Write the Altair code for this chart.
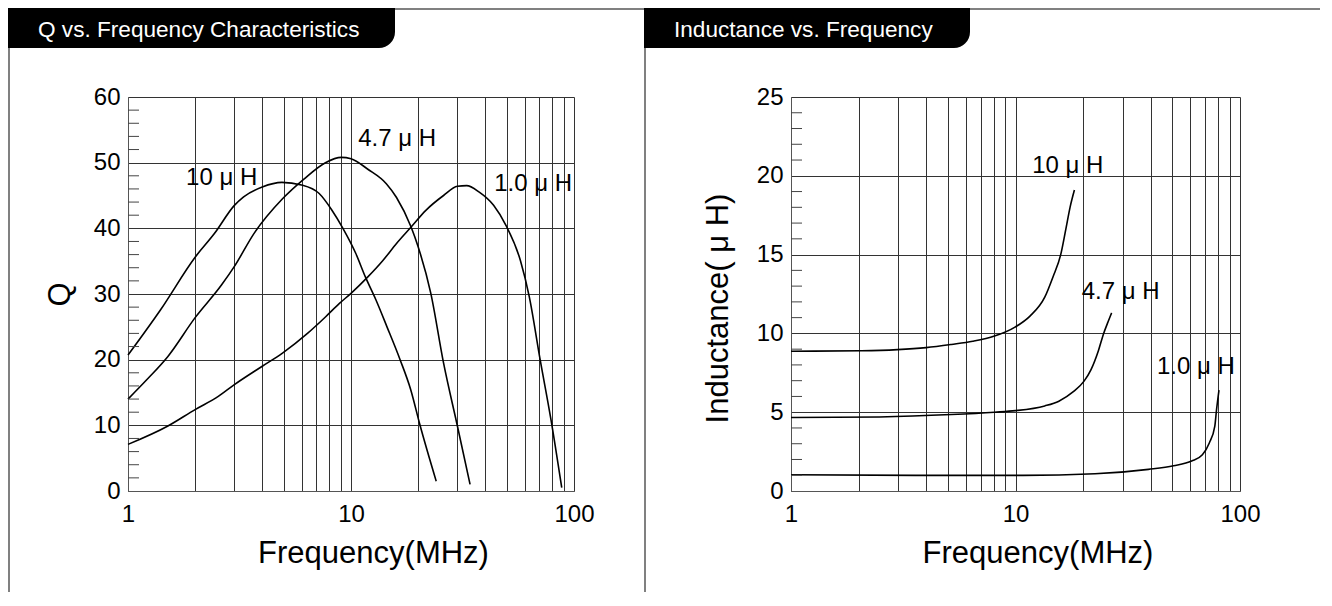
import altair as alt
import pandas as pd

FONT = "Liberation Sans"

# ---------------- Q vs. Frequency data ----------------
q10_f = [1, 1.4, 2, 2.44, 3, 3.3, 4, 4.9, 6.0, 7.2, 8.2, 9.2, 10.5, 11.6, 12.9, 14.5, 16.6, 18.5, 20.4, 24.1]
q10_q = [20.7, 27.6, 35.6, 39.2, 43.5, 44.8, 46.3, 47.0, 46.6, 45.3, 42.8, 40.0, 36.2, 32.6, 29.2, 25.0, 20.0, 15.5, 10.0, 1.5]

q47_f = [1, 1.21, 1.51, 2, 2.63, 3, 3.67, 4.93, 6.15, 7.68, 9.05, 10, 11.9, 14.4, 16.0, 18.6, 20, 22.8, 26.0, 30, 34.2]
q47_q = [14.0, 16.9, 20.5, 26.4, 31.4, 34.2, 39.2, 44.5, 47.5, 50.0, 50.8, 50.6, 49.0, 46.8, 44.7, 40.2, 37.2, 30.1, 19.5, 9.9, 1.0]

q1_f = [1, 1.51, 2, 2.54, 3, 4, 4.93, 6.38, 7.68, 8.9, 10, 11.9, 13.9, 16.0, 18.6, 21.6, 26.0, 30, 33.0, 37.6, 43.6, 49.6, 57.5, 63.0, 70.5, 78.8, 88.1]
q1_q = [7.1, 9.9, 12.4, 14.4, 16.2, 19.0, 21.0, 24.0, 26.5, 28.6, 30.1, 32.6, 35.1, 37.7, 40.2, 42.7, 45.0, 46.4, 46.5, 45.5, 43.5, 40.4, 35.1, 29.6, 20.0, 10.9, 0.5]

q_label_text = ["10 \u03bc H", "4.7 \u03bc H", "1.0 \u03bc H"]
q_label_f = [2.63, 16.1, 65.6]
q_label_q = [47.7, 53.6, 46.7]

# ---------------- Inductance vs. Frequency data ----------------
l10_f = [1, 2.06, 2.98, 4.0, 5.18, 6.45, 8.06, 9.95, 11.6, 13.5, 14.7, 15.9, 16.8, 17.5, 18.3]
l10_l = [8.87, 8.9, 8.97, 9.1, 9.3, 9.5, 9.83, 10.4, 11.1, 12.3, 13.6, 15.0, 16.7, 18.0, 19.1]

l47_f = [1, 2.48, 5.18, 8.06, 10.0, 13.5, 15.6, 18.1, 20.2, 21.7, 23.4, 24.7, 25.7, 26.8]
l47_l = [4.66, 4.7, 4.85, 5.0, 5.1, 5.4, 5.7, 6.3, 6.97, 7.7, 8.9, 10.0, 10.65, 11.3]

l1_f = [1, 3.58, 10.8, 22.6, 39.1, 50.6, 60.9, 68.0, 73.0, 77.2, 78.6, 80.6]
l1_l = [1.03, 0.99, 0.99, 1.09, 1.37, 1.6, 1.9, 2.3, 3.05, 4.1, 5.15, 6.4]

l_label_text = ["10 \u03bc H", "4.7 \u03bc H", "1.0 \u03bc H"]
l_label_f = [17.1, 29.4, 63.6]
l_label_l = [20.6, 12.65, 7.86]

# grid / tick values
x_grid = [1, 2, 3, 4, 5, 6, 7, 8, 9, 10, 20, 30, 40, 50, 60, 70, 80, 90, 100]
q_major = [0, 10, 20, 30, 40, 50, 60]
q_minor = [v for v in range(2, 60, 2) if v % 10 != 0]
l_major = [0, 5, 10, 15, 20, 25]
l_minor = [v for v in range(1, 25) if v % 5 != 0]


def long_df(pairs):
    rows = []
    for name, fs, vs in pairs:
        for f, v in zip(fs, vs):
            rows.append({"series": name, "f": f, "v": v})
    return pd.DataFrame(rows)


q_df = long_df([("10", q10_f, q10_q), ("4.7", q47_f, q47_q), ("1.0", q1_f, q1_q)])
l_df = long_df([("10", l10_f, l10_l), ("4.7", l47_f, l47_l), ("1.0", l1_f, l1_l)])
q_lab = pd.DataFrame({"f": q_label_f, "v": q_label_q, "t": q_label_text})
l_lab = pd.DataFrame({"f": l_label_f, "v": l_label_l, "t": l_label_text})
q_min_df = pd.DataFrame({"v": q_minor})
l_min_df = pd.DataFrame({"v": l_minor})


def panel(df, lab, mindf, ydom, ymajor, ytitle, ytitle_x, ytitle_y, tab_text,
          width, tab_left, tab_right, line_right):
    H = 394
    xenc = alt.X(
        "f:Q",
        scale=alt.Scale(type="log", domain=[1, 100]),
        axis=alt.Axis(
            values=x_grid, grid=True, ticks=False,
            labelExpr="(datum.value == 1 || datum.value == 10 || datum.value == 100) ? datum.label : ''",
            format="d", labelFlush=False, labelOverlap=False, labelPadding=11,
            labelFontSize=24, labelFont=FONT, labelColor="black",
            domainColor="#555", gridColor="#333", gridWidth=1,
            title="Frequency(MHz)", titleFont=FONT, titleFontSize=31,
            titleFontWeight="normal", titleColor="black",
            titleX=width / 2 + 22, titleY=62, titleAlign="center", titleBaseline="middle",
        ),
    )
    yenc = alt.Y(
        "v:Q",
        scale=alt.Scale(domain=ydom, nice=False),
        axis=alt.Axis(
            values=ymajor, grid=True, ticks=False, labelPadding=8,
            labelFontSize=24, labelFont=FONT, labelColor="black",
            domainColor="#555", gridColor="#333", gridWidth=1,
            title=ytitle, titleFont=FONT, titleFontSize=31,
            titleFontWeight="normal", titleColor="black",
            titleX=ytitle_x, titleY=ytitle_y, titleAngle=270,
            titleAlign="center", titleBaseline="middle",
        ),
    )

    curves = alt.Chart(df).mark_line(
        color="black", strokeWidth=1.6, interpolate="monotone"
    ).encode(x=xenc, y=yenc, detail="series:N")

    minor = alt.Chart(mindf).mark_rule(color="#444", strokeWidth=1).encode(
        y=alt.Y("v:Q"), x=alt.value(0), x2=alt.value(11)
    )

    labels = alt.Chart(lab).mark_text(
        font=FONT, fontSize=24, color="black", align="center", baseline="middle"
    ).encode(x=alt.X("f:Q"), y=alt.Y("v:Q"), text="t:N")

    tdf = pd.DataFrame({"t": [tab_text]})
    tab = alt.Chart(tdf).mark_rect(color="black", cornerRadiusBottomRight=16).encode(
        x=alt.value(tab_left), x2=alt.value(tab_right), y=alt.value(-89), y2=alt.value(-49)
    )
    tab_t = alt.Chart(tdf).mark_text(
        font=FONT, fontSize=22.6, color="white", align="left", baseline="middle"
    ).encode(x=alt.value(tab_left + 30), y=alt.value(-67), text="t:N")

    left_border = alt.Chart(tdf).mark_rule(color="#808080", strokeWidth=2).encode(
        x=alt.value(tab_left + 1), y=alt.value(-49), y2=alt.value(495)
    )
    top_border = alt.Chart(tdf).mark_rule(color="#808080", strokeWidth=2).encode(
        x=alt.value(tab_right), x2=alt.value(line_right), y=alt.value(-88)
    )

    return alt.layer(curves, minor, labels, tab, tab_t, left_border, top_border).properties(
        width=width, height=H
    )


left = panel(q_df, q_lab, q_min_df, [0, 60], q_major, "Q", -68, 197,
             "Q vs. Frequency Characteristics", 446, -120, 267, 516)
right = panel(l_df, l_lab, l_min_df, [0, 25], l_major, "Inductance( \u03bc H)", -73, 211,
              "Inductance vs. Frequency", 449, -147, 179, 529)

chart = alt.hconcat(left, right, spacing=217, bounds="flush").properties(
    padding=0
).configure_view(strokeWidth=0)

chart.save("out.html", embed_options={"renderer": "svg", "actions": False})
